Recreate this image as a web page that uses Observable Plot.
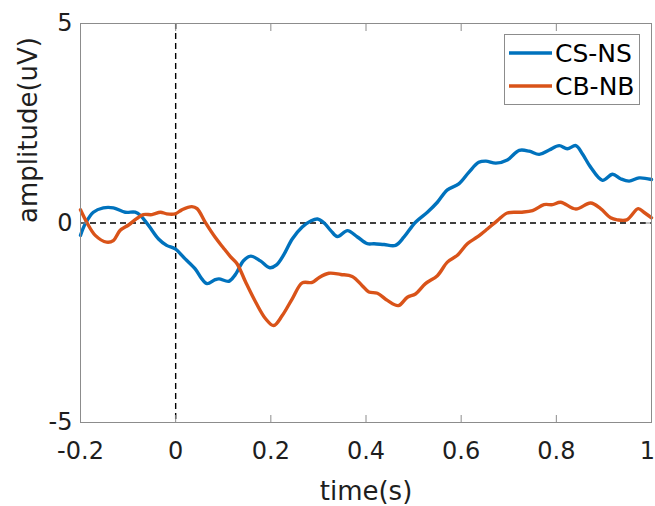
<!DOCTYPE html>
<html>
<head>
<meta charset="utf-8">
<script src="https://cdn.jsdelivr.net/npm/d3@7"></script>
<script src="https://cdn.jsdelivr.net/npm/@observablehq/plot@0.6"></script>
<style>
  html, body { margin: 0; padding: 0; background: #fff; }
  #chart { width: 655px; height: 506px; }
</style>
</head>
<body>
<div id="chart"></div>
<script>
const seriesNames = ["CS-NS", "CB-NB"];
const seriesColors = ["#0072BD", "#D95319"];

const csTime = [-0.200,-0.190,-0.173,-0.152,-0.131,-0.106,-0.085,-0.074,-0.057,-0.036,-0.019,-0.001,0.020,0.041,0.055,0.066,0.083,0.091,0.112,0.125,0.143,0.158,0.178,0.198,0.212,0.227,0.245,0.266,0.284,0.298,0.312,0.326,0.340,0.361,0.382,0.403,0.417,0.438,0.462,0.480,0.504,0.529,0.550,0.571,0.595,0.616,0.637,0.652,0.673,0.697,0.722,0.743,0.764,0.785,0.806,0.823,0.841,0.855,0.872,0.897,0.918,0.935,0.953,0.974,1.000];
const csVal  = [-0.31,-0.02,0.27,0.38,0.38,0.27,0.27,0.19,-0.06,-0.40,-0.56,-0.65,-0.90,-1.15,-1.40,-1.52,-1.42,-1.40,-1.46,-1.30,-0.94,-0.83,-0.95,-1.12,-1.05,-0.80,-0.40,-0.10,0.05,0.10,0.00,-0.19,-0.34,-0.19,-0.35,-0.52,-0.52,-0.54,-0.56,-0.35,0.02,0.27,0.52,0.83,0.98,1.27,1.52,1.55,1.50,1.58,1.82,1.80,1.72,1.83,1.94,1.86,1.94,1.73,1.40,1.07,1.22,1.11,1.05,1.13,1.09];

const cbTime = [-0.200,-0.187,-0.169,-0.145,-0.131,-0.117,-0.099,-0.082,-0.068,-0.050,-0.032,-0.019,-0.001,0.013,0.034,0.045,0.062,0.083,0.100,0.115,0.129,0.147,0.168,0.189,0.206,0.224,0.245,0.266,0.287,0.301,0.322,0.347,0.371,0.392,0.406,0.424,0.445,0.468,0.487,0.504,0.525,0.550,0.571,0.592,0.613,0.634,0.655,0.676,0.697,0.725,0.750,0.774,0.792,0.809,0.841,0.872,0.893,0.914,0.928,0.948,0.972,0.984,1.000];
const cbVal  = [0.33,0.02,-0.31,-0.48,-0.44,-0.19,-0.05,0.11,0.21,0.21,0.27,0.23,0.23,0.33,0.41,0.36,0.02,-0.36,-0.62,-0.84,-1.02,-1.48,-1.98,-2.40,-2.57,-2.32,-1.90,-1.50,-1.49,-1.37,-1.26,-1.29,-1.34,-1.57,-1.73,-1.76,-1.94,-2.07,-1.86,-1.78,-1.52,-1.32,-0.98,-0.81,-0.52,-0.35,-0.15,0.06,0.25,0.27,0.31,0.46,0.46,0.52,0.35,0.50,0.36,0.13,0.08,0.08,0.36,0.27,0.13];

const xTicks = [-0.2, 0, 0.2, 0.4, 0.6, 0.8, 1];
const xTickLabels = ["-0.2", "0", "0.2", "0.4", "0.6", "0.8", "1"];
const yTicks = [-5, 0, 5];
const yTickLabels = ["-5", "0", "5"];
const xLabel = "time(s)";
const yLabel = "amplitude(uV)";

const rows = [
  ...csTime.map((t, i) => ({t, v: csVal[i], s: seriesNames[0]})),
  ...cbTime.map((t, i) => ({t, v: cbVal[i], s: seriesNames[1]}))
];

const font = "DejaVu Sans";
const axisGray = "#8c8c8c";
const textColor = "#1e1e1e";
const fmtX = d => xTickLabels[xTicks.indexOf(d)];

const plot = Plot.plot({
  width: 655,
  height: 506,
  marginLeft: 80,
  marginRight: 4,
  marginTop: 23,
  marginBottom: 84,
  style: {fontFamily: font, fontSize: "24px", color: textColor, background: "#fff"},
  x: {domain: [-0.2, 1]},
  y: {domain: [-5, 5]},
  color: {domain: seriesNames, range: seriesColors},
  marks: [
    Plot.ruleY([0], {stroke: "#000", strokeWidth: 1.4, strokeDasharray: "6,4"}),
    Plot.ruleX([0], {stroke: "#000", strokeWidth: 1.4, strokeDasharray: "6,4"}),
    Plot.line(rows, {x: "t", y: "v", z: "s", stroke: "s", strokeWidth: 3.4, curve: "catmull-rom"}),
    Plot.frame({stroke: axisGray, strokeWidth: 1}),
    // inward ticks
    Plot.axisX({ticks: xTicks, anchor: "bottom", tickSize: 7, dy: -7, text: null, label: null, stroke: axisGray}),
    Plot.axisX({ticks: xTicks, anchor: "top", tickSize: 7, dy: 7, text: null, label: null, stroke: axisGray}),
    Plot.axisY({ticks: yTicks, anchor: "left", tickSize: 7, dx: 7, text: null, label: null, stroke: axisGray}),
    Plot.axisY({ticks: yTicks, anchor: "right", tickSize: 7, dx: -7, text: null, label: null, stroke: axisGray}),
    // tick labels
    Plot.axisX({ticks: xTicks.slice(0, -1), anchor: "bottom", tickSize: 0, tickPadding: 19, label: null,
      tickFormat: fmtX, fontSize: 24, fill: textColor}),
    Plot.axisX({ticks: xTicks.slice(-1), anchor: "bottom", tickSize: 0, tickPadding: 19, label: null,
      tickFormat: fmtX, fontSize: 24, fill: textColor, dx: -4}),
    Plot.axisY({ticks: yTicks, anchor: "left", tickSize: 0, tickPadding: 8, label: null,
      tickFormat: d => yTickLabels[yTicks.indexOf(d)], fontSize: 24, fill: textColor}),
    // axis titles
    Plot.text([xLabel], {frameAnchor: "bottom", dy: 69, lineAnchor: "middle", fontSize: 26, fill: textColor}),
    Plot.text([yLabel], {frameAnchor: "left", dx: -52, rotate: -90, lineAnchor: "middle", fontSize: 26, fill: textColor})
  ]
});

document.getElementById("chart").appendChild(plot);

// Legend (inside the axes, top right)
const svg = d3.select(plot);
const lg = svg.append("g").attr("font-family", font).attr("font-size", 25).attr("text-anchor", "start");
lg.append("rect").attr("x", 504.5).attr("y", 34.5).attr("width", 135).attr("height", 70)
  .attr("fill", "#fff").attr("stroke", axisGray).attr("stroke-width", 1);
seriesNames.forEach((name, i) => {
  const cy = 53 + i * 33;
  lg.append("line").attr("x1", 509).attr("x2", 552).attr("y1", cy).attr("y2", cy)
    .attr("stroke", seriesColors[i]).attr("stroke-width", 3.4);
  lg.append("text").attr("x", 555).attr("y", cy).attr("dy", "0.36em")
    .attr("text-anchor", "start").attr("fill", "#000").text(name);
});
</script>
</body>
</html>
